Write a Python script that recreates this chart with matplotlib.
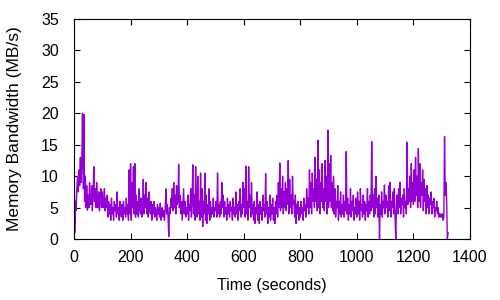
import matplotlib
matplotlib.use("Agg")
import matplotlib.pyplot as plt
import numpy as np

plt.rcParams['font.family'] = ['Liberation Sans', 'DejaVu Sans']

STEP = 2.5  # seconds between samples

# memory bandwidth (MB/s), one sample every STEP seconds
bw = [
    18, 1, 6, 4.5, 8, 10, 7.5, 11, 8.5, 13, 9, 12, 20, 8, 19.8, 6, 10, 5, 8.5, 4.6,
    7, 5, 9, 6, 5.5, 8.5, 4.5, 7, 11.5, 6, 8, 5, 9, 6.5, 5, 7.5, 4.5, 6, 8, 5,
    7.5, 5, 6, 8, 4.5, 6.5, 5, 7, 3.5, 6, 4, 5.5, 3, 6.5, 4, 5, 3, 6, 4.5, 5.5,
    3.5, 7.5, 4, 5, 3, 6, 4.5, 3.5, 5.5, 3, 6, 4, 5, 3.5, 6.5, 4, 5.5, 3, 11, 4,
    12, 3, 9, 5, 11.5, 4, 12, 3.5, 7, 4, 6, 3.5, 8, 5, 4, 6.5, 3.5, 5, 9.5, 4,
    7, 5, 9, 4, 6.5, 3.5, 7.5, 5, 4, 6, 3, 5.5, 4, 6, 3.5, 5, 4.5, 3, 5.5, 4,
    5, 3.5, 5.7, 3, 4.5, 5, 3.5, 4.5, 3, 5, 8, 4, 5.5, 3.5, 0.4, 5, 4, 6.5, 5, 8,
    4.5, 9, 5, 7, 4, 8.5, 5.5, 6, 11.9, 5, 7, 4, 6, 3, 5.5, 8, 4, 6, 3.5, 5,
    4, 7, 3, 5.5, 4.5, 8, 3.5, 6, 11.8, 4, 7, 3, 11.5, 5, 3.5, 10, 4, 6, 3, 10.5,
    3.5, 8, 2, 6, 4, 10.5, 3, 7, 2.5, 5.5, 4, 8, 3, 6, 3.5, 5, 4, 6.5, 3.5, 5,
    4.5, 6, 3.5, 10.5, 4, 5.5, 3.5, 6, 4, 9, 5, 7, 3.5, 6, 4, 5, 3, 6.5, 4, 5.5,
    3.5, 6, 4.5, 5, 3, 6.5, 4, 5, 3.5, 7.5, 4, 5.5, 3, 6, 4.5, 8, 3.5, 5.5, 4, 9,
    5, 8, 3.5, 11.6, 4, 6, 3, 11.5, 5, 7, 3.5, 9, 4, 5.5, 3, 6, 2.5, 5, 4, 7.5,
    3, 5.5, 2.5, 6, 4, 5, 3, 7, 4.5, 5.5, 3.5, 10.4, 4, 6, 2.5, 5, 3.5, 7, 3, 5.5,
    4, 6.5, 3, 5, 2.5, 6, 4, 7, 3.5, 9, 5, 12.1, 4.5, 8, 5, 10, 4, 7.5, 5, 9,
    4.5, 8, 5.5, 12.5, 4, 9.5, 5, 7, 4, 10, 5.5, 6, 3.5, 7, 2.5, 5.5, 4, 6, 3, 5,
    3.5, 6, 4, 5, 3, 6.5, 4.5, 5.5, 3.5, 8, 5, 6.5, 4, 11, 5, 9, 4, 10.5, 6, 8,
    5, 13, 6, 9.5, 4.5, 15.7, 5, 11, 4, 9, 6, 12, 5, 8, 4.5, 12.5, 6, 10, 4, 17.3,
    5, 12, 6, 13.3, 5, 9, 4.5, 10, 4, 8, 3.5, 6, 5, 8.5, 3, 6, 4, 7.5, 3.5, 5.5,
    4, 7, 3.5, 6, 4.5, 13.9, 4, 6.5, 3, 5.5, 4, 8, 3.5, 6, 4.5, 7, 3, 5, 4, 6.5,
    3.5, 7.5, 4, 6, 3, 8, 4.5, 5.5, 3.5, 7, 4, 6, 3, 5.5, 4.5, 8, 3.5, 6, 4, 7,
    4.5, 15.5, 5, 7, 3.5, 8, 4, 10, 5, 6.5, 3.5, 7, 0, 5.5, 4, 7.5, 3.5, 6, 5, 8.6,
    4, 7, 5, 6, 3.5, 8.5, 4.5, 9, 3.5, 6, 5, 7.5, 4, 8, 3.5, 0, 5, 7, 4, 8,
    5, 9, 4, 6.5, 5.5, 7, 3.5, 8, 5, 6, 4, 15.4, 5.5, 8, 6, 10, 5, 12, 6, 9,
    5.5, 11, 6, 13, 7, 10, 5, 14.4, 6, 12, 5, 9, 7, 11, 4.5, 9.5, 6, 8, 4, 8.5,
    5, 7, 4, 6.5, 5.5, 7.5, 4, 6, 5, 6.5, 3.5, 5, 4.5, 6, 4, 5, 3.5, 4, 3.5, 4,
    3.5, 4, 3, 3.5, 16.3, 7, 9, 6, 0, 1,
]
t = np.arange(len(bw)) * STEP

fig = plt.figure(figsize=(5, 3), dpi=100)
ax = fig.add_axes([0.148, 0.203, 0.792, 0.734])
ax.plot(t, bw, color="#9400D3", lw=1.0)

ax.set_xlim(0, 1400)
ax.set_ylim(0, 35)
ax.set_xticks(range(0, 1401, 200))
ax.set_yticks(range(0, 36, 5))
ax.tick_params(direction="in", top=True, right=True, labelsize=11.5, length=4)
ax.tick_params(axis="y", pad=11)
ax.tick_params(axis="x", pad=8)
ax.set_xlabel("Time (seconds)", fontsize=11.5, labelpad=9)
ax.set_ylabel("Memory Bandwidth (MB/s)", fontsize=12.5, labelpad=14)

fig.savefig("out.png", dpi=100)
